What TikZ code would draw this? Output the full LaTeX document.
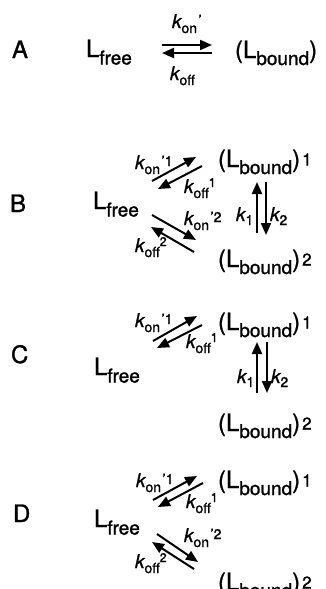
\documentclass[tikz,border=0pt]{standalone}
\usepackage{fontspec}
\setmainfont{TeX Gyre Heros}[FakeBold=1.2]
\usetikzlibrary{arrows.meta}

% type sizes (1pt = one unit of the drawing)
\newcommand\mainsz{\fontsize{24}{26}\selectfont}
\newcommand\subsz{\fontsize{19}{21}\selectfont}
\newcommand\digsz{\fontsize{17}{19}\selectfont}
\newcommand\lblsz{\fontsize{19}{21}\selectfont}
\newcommand\lblsubsz{\fontsize{14}{16}\selectfont}

% species
\newcommand\Lfree{\mainsz L\raisebox{-7.5pt}{\subsz free}}
\newcommand\Lbnd{\mainsz(L\raisebox{-7pt}{\subsz bound})}
\newcommand\LbndN[1]{\Lbnd\hspace{2pt}\raisebox{1.5pt}{\digsz #1}}

% rate constants
\newcommand\kon[1]{{\lblsz\itshape k}\raisebox{-5pt}{\lblsubsz on}\hspace{1.5pt}\raisebox{3pt}{\lblsubsz '}\raisebox{3pt}{\lblsubsz #1}}
\newcommand\koff[1]{{\lblsz\itshape k}\raisebox{-5pt}{\lblsubsz off}\raisebox{6pt}{\fontsize{12.5}{14}\selectfont #1}}
\newcommand\kk[1]{{\lblsz\itshape k}\raisebox{-4pt}{\lblsubsz #1}}

\tikzset{
  txt/.style={anchor=base west, inner sep=0pt, outer sep=0pt},
  rxn/.style={line width=2pt, -{Triangle[length=12pt,width=10pt]}},
}

\begin{document}
\begin{tikzpicture}[x=1pt, y=-1pt]
\useasboundingbox (0,0) rectangle (326,589);
\clip (0,0) rectangle (326,589);

% ---------- scheme A ----------
\node[txt] (labA) at (12,58) {\mainsz A};
\node[txt] (freeA) at (86,57) {\Lfree};
\node[txt] (bndA) at (235,58) {\Lbnd};
\coordinate (A1s) at (162,45); \coordinate (A1e) at (212,45);
\coordinate (A2s) at (212,53); \coordinate (A2e) at (162,53);
\draw[rxn] (A1s) -- (A1e);
\draw[rxn] (A2s) -- (A2e);
\node[txt] (konA) at (172,28) {\kon{}};
\node[txt] (koffA) at (170,80) {\koff{}};

% ---------- scheme B ----------
\node[txt] (labB) at (10,212) {\mainsz B};
\node[txt] (freeB) at (93,209) {\Lfree};
\node[txt] (bndB1) at (218,167) {\LbndN{1}};
\node[txt] (bndB2) at (218,267) {\LbndN{2}};
\coordinate (B1s) at (152,181); \coordinate (B1e) at (196,157);
\coordinate (B2s) at (202,166); \coordinate (B2e) at (158,189);
\coordinate (B3s) at (152,215); \coordinate (B3e) at (196,240);
\coordinate (B4s) at (194,252); \coordinate (B4e) at (151,227);
\coordinate (B5s) at (257,233); \coordinate (B5e) at (257,182);
\coordinate (B6s) at (266,182); \coordinate (B6e) at (266,235);
\draw[rxn] (B1s) -- (B1e);
\draw[rxn] (B2s) -- (B2e);
\draw[rxn] (B3s) -- (B3e);
\draw[rxn] (B4s) -- (B4e);
\draw[rxn] (B5s) -- (B5e);
\draw[rxn] (B6s) -- (B6e);
\node[txt] (konB1) at (135,169) {\kon{1}};
\node[txt] (koffB1) at (184,193) {\koff{1}};
\node[txt] (konB2) at (184,225) {\kon{2}};
\node[txt] (koffB2) at (135,252) {\koff{2}};
\node[txt] (kB1) at (236,221) {\kk{1}};
\node[txt] (kB2) at (270,221) {\kk{2}};

% ---------- scheme C ----------
\node[txt] (labC) at (11,363) {\mainsz C};
\node[txt] (freeC) at (94,375) {\Lfree};
\node[txt] (bndC1) at (218,330) {\LbndN{1}};
\node[txt] (bndC2) at (218,431) {\LbndN{2}};
\coordinate (C1s) at (153,341); \coordinate (C1e) at (197,316);
\coordinate (C2s) at (202,325); \coordinate (C2e) at (157,348);
\coordinate (C5s) at (257,393); \coordinate (C5e) at (257,342);
\coordinate (C6s) at (267,342); \coordinate (C6e) at (267,393);
\draw[rxn] (C1s) -- (C1e);
\draw[rxn] (C2s) -- (C2e);
\draw[rxn] (C5s) -- (C5e);
\draw[rxn] (C6s) -- (C6e);
\node[txt] (konC1) at (135,327) {\kon{1}};
\node[txt] (koffC1) at (186,348) {\koff{1}};
\node[txt] (kC1) at (237,383) {\kk{1}};
\node[txt] (kC2) at (271,383) {\kk{2}};

% ---------- scheme D ----------
\node[txt] (labD) at (13,522) {\mainsz D};
\node[txt] (freeD) at (94,527) {\Lfree};
\node[txt] (bndD1) at (218,488) {\LbndN{1}};
\node[txt] (bndD2) at (218,590) {\LbndN{2}};
\coordinate (D1s) at (153,500); \coordinate (D1e) at (197,476);
\coordinate (D2s) at (203,483); \coordinate (D2e) at (158,507);
\coordinate (D3s) at (157,534); \coordinate (D3e) at (198,562);
\coordinate (D4s) at (194,569); \coordinate (D4e) at (152,542);
\draw[rxn] (D1s) -- (D1e);
\draw[rxn] (D2s) -- (D2e);
\draw[rxn] (D3s) -- (D3e);
\draw[rxn] (D4s) -- (D4e);
\node[txt] (konD1) at (136,487) {\kon{1}};
\node[txt] (koffD1) at (186,508) {\koff{1}};
\node[txt] (konD2) at (184,542) {\kon{2}};
\node[txt] (koffD2) at (135,568) {\koff{2}};
\end{tikzpicture}
\end{document}
